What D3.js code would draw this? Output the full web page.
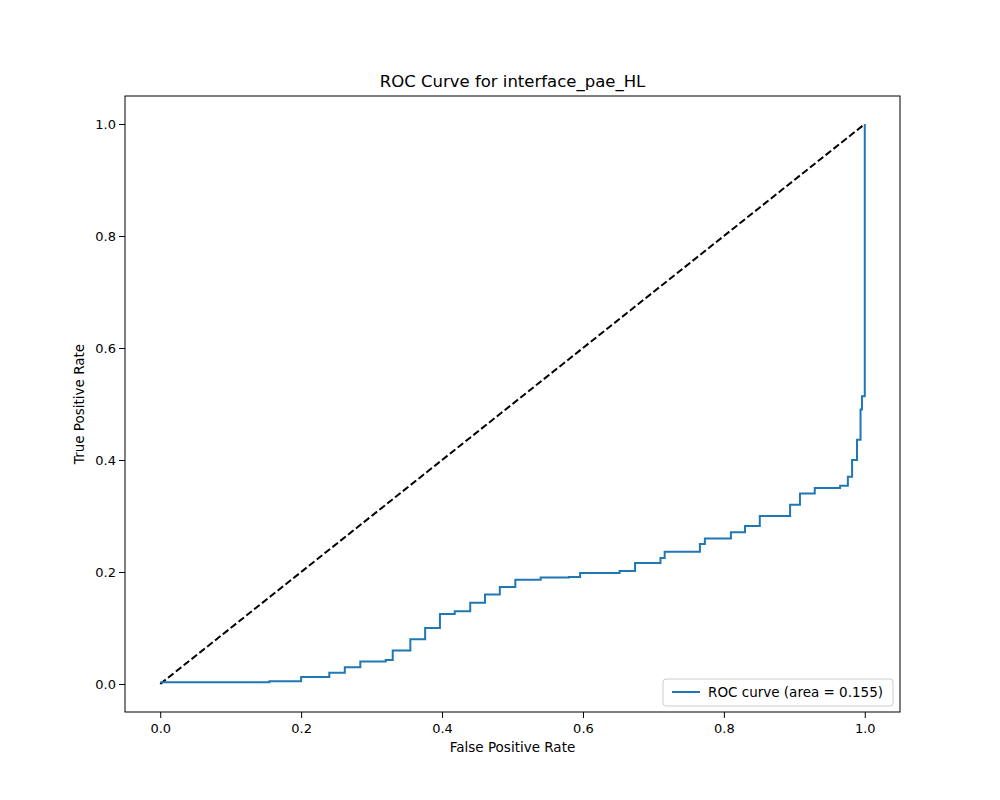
<!DOCTYPE html><html><head><meta charset="utf-8"><script src="https://cdn.jsdelivr.net/npm/d3@7"></script>
<style>body{margin:0;background:#fff}text{font-family:"DejaVu Sans",sans-serif;fill:#000}</style></head><body><svg id="c" width="1000" height="800"></svg>
<script>
const fpr=[0,0.15,0.155,0.2,0.24,0.262,0.284,0.32,0.33,0.355,0.376,0.397,0.418,0.44,0.461,0.482,0.504,0.54,0.58,0.596,0.652,0.674,0.71,0.716,0.766,0.773,0.81,0.83,0.851,0.894,0.908,0.929,0.965,0.976,0.982,0.989,0.994,0.996,1.0,1.0];
const tpr=[0.003,0.003,0.005,0.0125,0.02,0.03,0.04,0.043,0.06,0.08,0.10,0.125,0.13,0.145,0.16,0.173,0.186,0.19,0.191,0.198,0.202,0.216,0.225,0.236,0.25,0.26,0.271,0.282,0.3,0.32,0.34,0.35,0.354,0.37,0.40,0.436,0.49,0.514,0.514,1.0];
const ticks=[0,0.2,0.4,0.6,0.8,1.0];
const svg=d3.select("#c");
const L=125,R=900,T=96,B=712;
const x=d3.scaleLinear().domain([-0.05,1.05]).range([L,R]);
const y=d3.scaleLinear().domain([-0.05,1.05]).range([B,T]);
svg.append("g").attr("transform",`translate(0,${B})`).call(d3.axisBottom(x).tickValues(ticks).tickFormat(d3.format(".1f")).tickSizeOuter(0)).call(g=>{g.select(".domain").remove();g.selectAll("text").style("font-size","13px").attr("dy","0.9em");});
svg.append("g").attr("transform",`translate(${L},0)`).call(d3.axisLeft(y).tickValues(ticks).tickFormat(d3.format(".1f")).tickSizeOuter(0)).call(g=>{g.select(".domain").remove();g.selectAll("text").style("font-size","13px");});
svg.append("rect").attr("x",L).attr("y",T).attr("width",R-L).attr("height",B-T).attr("fill","none").attr("stroke","#000").attr("stroke-width",1);
svg.append("line").attr("x1",x(0)).attr("y1",y(0)).attr("x2",x(1)).attr("y2",y(1)).attr("stroke","#000").attr("stroke-width",2).attr("stroke-dasharray","7,3");
const pts=fpr.map((f,i)=>[f,tpr[i]]);
svg.append("path").datum(pts).attr("d",d3.line().x(d=>x(d[0])).y(d=>y(d[1])).curve(d3.curveStepAfter)).attr("fill","none").attr("stroke","#1f77b4").attr("stroke-width",2);
svg.append("text").attr("x",(L+R)/2).attr("y",T-9).attr("text-anchor","middle").style("font-size","16.5px").text("ROC Curve for interface_pae_HL");
svg.append("text").attr("x",(L+R)/2).attr("y",752).attr("text-anchor","middle").style("font-size","13.5px").text("False Positive Rate");
svg.append("text").attr("transform",`translate(84,${(T+B)/2}) rotate(-90)`).attr("text-anchor","middle").style("font-size","13.5px").text("True Positive Rate");
const lg=svg.append("g");
lg.append("rect").attr("x",663).attr("y",679).attr("width",230).attr("height",27).attr("rx",3).attr("fill","#fff").attr("stroke","#ccc");
lg.append("line").attr("x1",672).attr("x2",700).attr("y1",692).attr("y2",692).attr("stroke","#1f77b4").attr("stroke-width",2);
lg.append("text").attr("x",708).attr("y",697).style("font-size","13.5px").text("ROC curve (area = 0.155)");
</script></body></html>
